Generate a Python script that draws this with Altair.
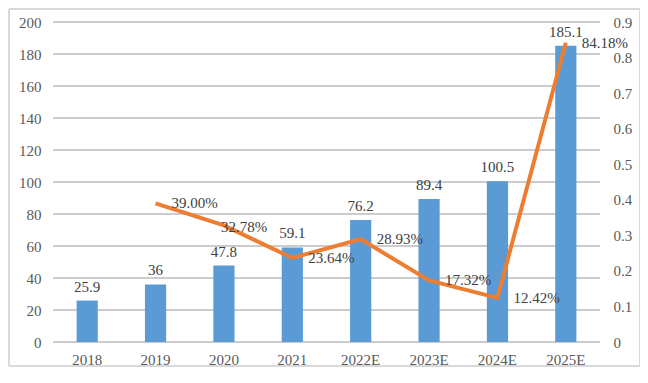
import altair as alt
import pandas as pd

years = ["2018", "2019", "2020", "2021", "2022E", "2023E", "2024E", "2025E"]
values = [25.9, 36, 47.8, 59.1, 76.2, 89.4, 100.5, 185.1]
growth = [None, 0.39, 0.3278, 0.2364, 0.2893, 0.1732, 0.1242, 0.8418]
growth_labels = ["", "39.00%", "32.78%", "23.64%", "28.93%", "17.32%", "12.42%", "84.18%"]
grid_values = list(range(0, 201, 20))
right_ticks = [i / 10 for i in range(10)]

df = pd.DataFrame({"year": years, "value": values, "growth": growth, "glabel": growth_labels})
gdf = pd.DataFrame({"g": grid_values})

FONT = "Liberation Serif, DejaVu Serif, serif"
W, H = 547, 320

x = alt.X("year:N", sort=years, title=None,
          scale=alt.Scale(paddingInner=0.69, paddingOuter=0.345),
          axis=alt.Axis(labelAngle=0, labelFont=FONT, labelFontSize=15, labelColor="#595959",
                        ticks=False, domain=False, labelPadding=10))

left_axis = alt.Axis(values=grid_values, labelFont=FONT, labelFontSize=15,
                     labelColor="#595959", ticks=False, domain=False, grid=False,
                     labelPadding=12)
left_scale = alt.Scale(domain=[0, 200])

base = alt.Chart(df)

grid = alt.Chart(gdf).mark_rule(color="#CCCCCC", strokeWidth=2).encode(
    y=alt.Y("g:Q", title=None, scale=left_scale, axis=left_axis),
    x=alt.value(0), x2=alt.value(W)
)
bars = base.mark_bar(color="#5B9BD5").encode(
    x=x, y=alt.Y("value:Q", title=None, scale=left_scale, axis=left_axis))
bar_text = base.mark_text(font=FONT, fontSize=15, color="#404040", baseline="alphabetic", dy=-9).encode(
    x=x, y=alt.Y("value:Q", title=None, scale=left_scale, axis=left_axis), text="value:Q"
)
left = alt.layer(grid, bars, bar_text)

yr = alt.Y("growth:Q", title=None, scale=alt.Scale(domain=[0, 0.9]),
           axis=alt.Axis(orient="right", values=right_ticks, labelFont=FONT,
                         labelFontSize=15, labelColor="#595959", ticks=False, domain=False,
                         grid=False, labelPadding=13,
                         labelExpr="datum.value == 0 ? '0' : format(datum.value, '.1f')"))
gbase = base.transform_filter("isValid(datum.growth)")
line = gbase.mark_line(color="#ED7D31", strokeWidth=4).encode(x=x, y=yr)
gtext = gbase.transform_filter(alt.datum.year != "2020").mark_text(
    font=FONT, fontSize=15, color="#404040", align="left", baseline="middle", dx=16
).encode(x=x, y=yr, text="glabel:N")
gtext2 = gbase.transform_filter(alt.datum.year == "2020").mark_text(
    font=FONT, fontSize=15, color="#404040", align="left", baseline="middle", dx=-3, dy=2
).encode(x=x, y=yr, text="glabel:N")

one = gbase.transform_filter(alt.datum.year == "2019")
bstyle = dict(color="#D9D9D9", strokeWidth=2)
b_top = one.mark_rule(**bstyle).encode(x=alt.value(-44), x2=alt.value(587), y=alt.value(-13))
b_bot = one.mark_rule(**bstyle).encode(x=alt.value(-44), x2=alt.value(587), y=alt.value(344))
b_left = one.mark_rule(**bstyle).encode(x=alt.value(-44), y=alt.value(-13), y2=alt.value(344))
b_right = one.mark_rule(**bstyle).encode(x=alt.value(587), y=alt.value(-13), y2=alt.value(344))
right = alt.layer(line, gtext, gtext2, b_top, b_bot, b_left, b_right)

chart = alt.layer(left, right).resolve_scale(y="independent").properties(
    width=W, height=H,
    autosize=alt.AutoSizeParams(type="none"),
    padding={"left": 45, "top": 14, "right": 40, "bottom": 26},
    background="white",
).configure_view(stroke=None)

chart.save("out.html", embed_options={"renderer": "svg", "actions": False})
